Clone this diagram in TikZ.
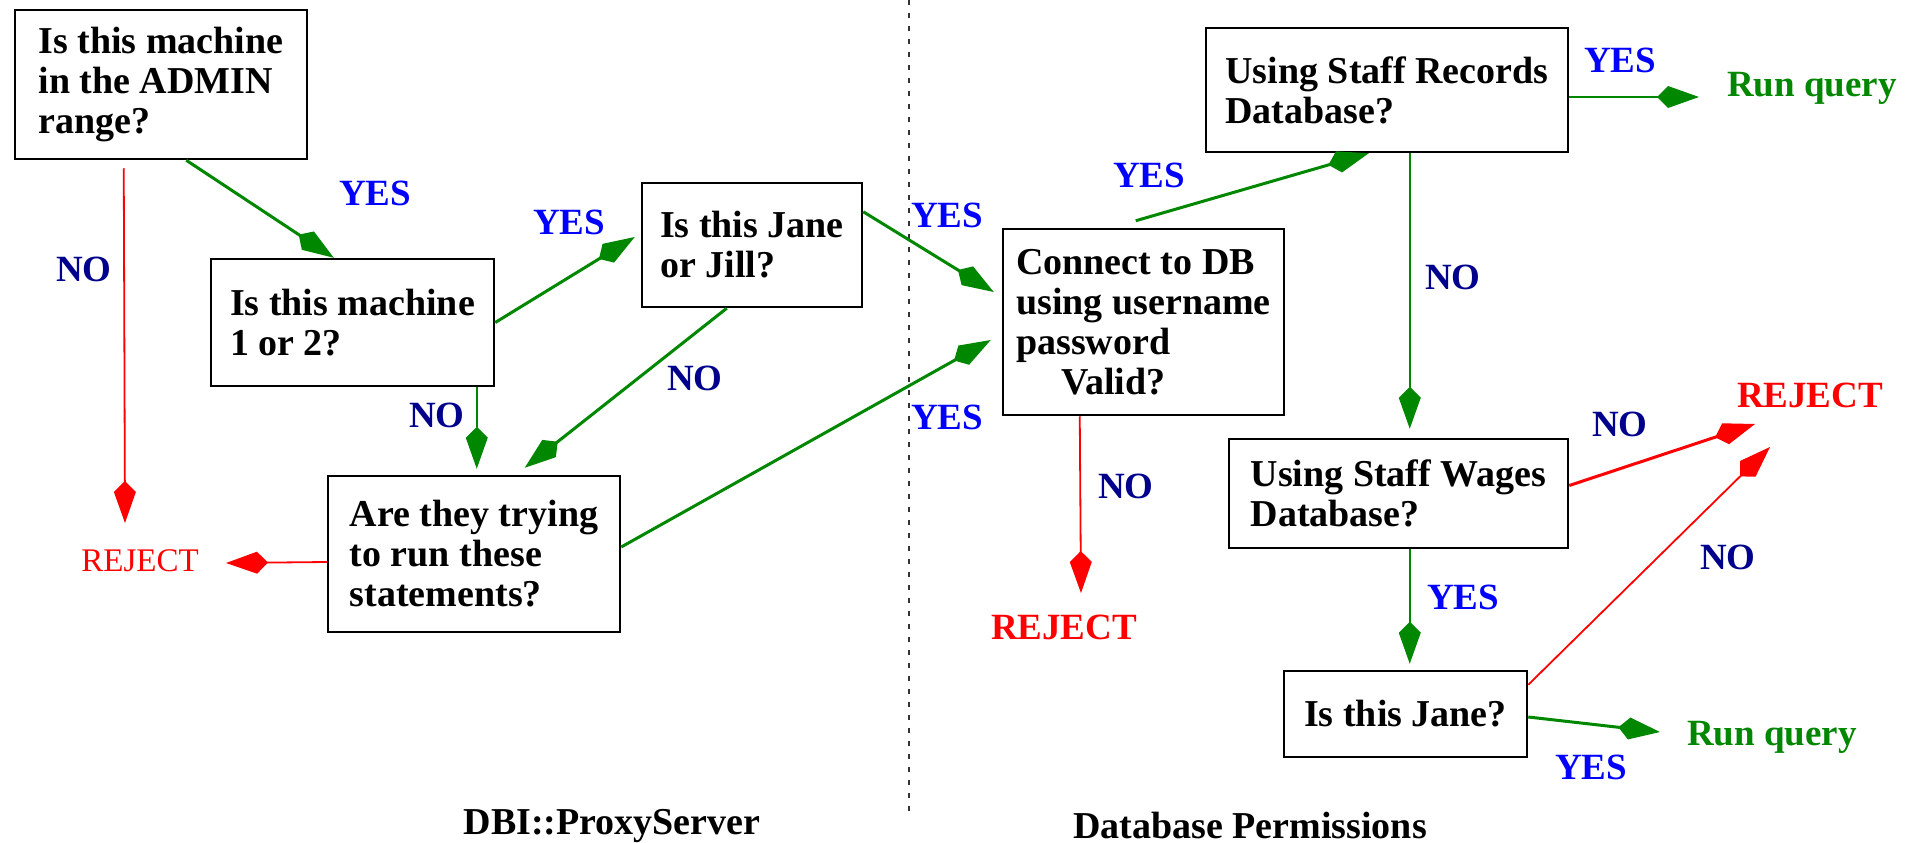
\documentclass[tikz,border=0pt]{standalone}
\usepackage{fontspec}
\setmainfont{Liberation Serif}
\usetikzlibrary{arrows.meta,calc}

\definecolor{flowgreen}{RGB}{0,135,0}
\definecolor{yesblue}{RGB}{0,0,255}
\definecolor{nonavy}{RGB}{0,0,140}
\definecolor{rejred}{RGB}{255,0,0}

\begin{document}
\begin{tikzpicture}[x=1pt,y=-1pt,
  box/.style={draw=black, line width=2.5pt, inner sep=0pt, align=left,
    font=\bfseries\fontsize{38}{40}\selectfont},
  lbl/.style={inner sep=0pt, font=\bfseries\fontsize{37}{40}\selectfont},
  yes/.style={lbl, text=yesblue},
  no/.style={lbl, text=nonavy},
  rej/.style={lbl, text=rejred},
  runq/.style={lbl, text=flowgreen},
  foot/.style={lbl, text=black, font=\bfseries\fontsize{38}{40}\selectfont},
  tip/.style={-{Kite[length=42pt,width=22pt,inset=11pt]}},
  gthick/.style={draw=flowgreen, fill=flowgreen, line width=3pt, tip},
  gthin/.style={draw=flowgreen, fill=flowgreen, line width=1.8pt, tip},
  rthick/.style={draw=rejred, fill=rejred, line width=3pt, tip},
  rthin/.style={draw=rejred, fill=rejred, line width=1.8pt, tip},
  divider/.style={draw=black!80, line width=2pt, dash pattern=on 5pt off 8pt}
]
\useasboundingbox (0,0) rectangle (1927,843);

% decision boxes
\node[box, minimum width=292pt, minimum height=149pt] (b1) at (161,84.5)
  {Is this machine\\in the ADMIN\\range?};
\node[box, minimum width=283pt, minimum height=127pt] (b2) at (352.5,322.5)
  {Is this machine\\1 or 2?};
\node[box, minimum width=220pt, minimum height=124pt] (b3) at (752,245)
  {Is this Jane\\or Jill?};
\node[box, minimum width=292pt, minimum height=156pt] (b4) at (474,554)
  {Are they trying\\to run these\\statements?};
\node[box, minimum width=281pt, minimum height=186pt] (b5) at (1143.5,322)
  {Connect to DB\\using username\\password\\\hspace*{45pt}Valid?};
\node[box, minimum width=362pt, minimum height=124pt] (b6) at (1387,90)
  {Using Staff Records\\Database?};
\node[box, minimum width=339pt, minimum height=109pt] (b7) at (1398.5,493.5)
  {Using Staff Wages\\Database?};
\node[box, minimum width=243pt, minimum height=86pt, align=center] (b8) at (1405.5,714)
  {Is this Jane?};

% outcomes
\node[rej, font=\fontsize{33}{36}\selectfont] (rej1) at (140,561) {REJECT};
\node[rej] (rej2) at (1064,627) {REJECT};
\node[rej] (rej3) at (1810,395) {REJECT};
\node[runq] (run1) at (1812,88) {Run query};
\node[runq] (run2) at (1772,737) {Run query};

% section divider and titles
\coordinate (divtop) at (909,0);
\coordinate (divbot) at (909,813);
\draw[divider] (divtop) -- (divbot);
\node[foot] (t1) at (612,826) {DBI::ProxyServer};
\node[foot] (t2) at (1250,825) {Database Permissions};

% connectors
\draw[gthick] ($(b1.south west)+(172.5,0)$) -- ($(b2.north west)+(124,0)$);
\draw[rthin] ($(b1.south west)+(110,8)$) -- ($(rej1)+(-15,-38)$);
\draw[gthick] (b2.east) -- ($(b3.west)+(-6,-8)$);
\draw[gthin] ($(b2.south west)+(267,0)$) -- ($(b4.north west)+(150,-6)$);
\draw[gthick] ($(b3.south west)+(86,0)$) -- ($(b4.north west)+(198,-7)$);
\draw[gthick] ($(b4.east)+(0,-7)$) -- ($(b5.west)+(-11,18)$);
\draw[gthick] ($(b3.north east)+(0,30)$) -- ($(b5.west)+(-8,-30)$);
\draw[rthin] ($(b4.west)+(0,8)$) -- ($(rej1)+(86,2)$);
\draw[gthick] ($(b5.north west)+(134,-7)$) -- ($(b6.south west)+(164,0)$);
\draw[gthin] ($(b6.east)+(0,7)$) -- ($(run1)+(-113,9)$);
\draw[gthin] ($(b6.south west)+(205,0)$) -- ($(b7.north west)+(182,-9)$);
\draw[rthin] ($(b5.south west)+(78,0)$) -- ($(rej2)+(17,-34)$);
\draw[rthick] ($(b7.east)+(0,-8)$) -- ($(rej3)+(-55,29)$);
\draw[gthin] ($(b7.south west)+(182,0)$) -- ($(b8.north west)+(127,-6)$);
\draw[rthin] ($(b8.north east)+(0,15)$) -- ($(rej3)+(-40,52)$);
\draw[gthick] ($(b8.east)+(0,3)$) -- ($(run2)+(-112,-5)$);

% branch labels
\node[yes] (y1) at (375,193) {YES};
\node[yes] (y2) at (569,222) {YES};
\node[yes] (y3) at (947,215) {YES};
\node[yes] (y4) at (947,417) {YES};
\node[yes] (y5) at (1149,175) {YES};
\node[yes] (y6) at (1620,60) {YES};
\node[yes] (y7) at (1463,597) {YES};
\node[yes] (y8) at (1591,767) {YES};
\node[no] (n1) at (84,269) {NO};
\node[no] (n2) at (437,415) {NO};
\node[no] (n3) at (695,378) {NO};
\node[no] (n4) at (1453,277) {NO};
\node[no] (n5) at (1126,486) {NO};
\node[no] (n6) at (1620,424) {NO};
\node[no] (n7) at (1728,557) {NO};
\end{tikzpicture}
\end{document}
